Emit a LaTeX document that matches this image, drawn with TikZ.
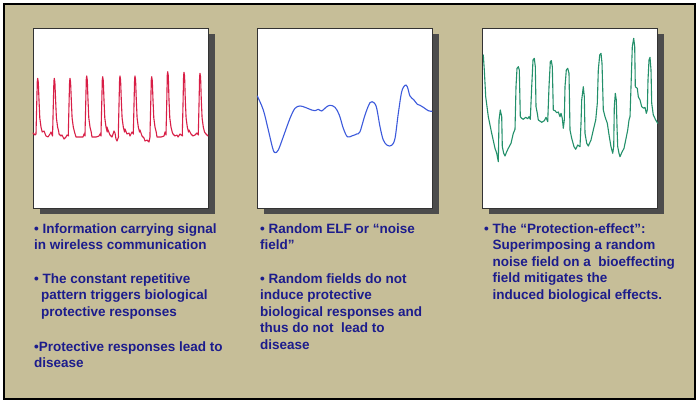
\documentclass[tikz,border=0pt]{standalone}
\usepackage{fontspec}
\setmainfont{Liberation Sans}
\definecolor{bgtan}{HTML}{C6BE98}
\definecolor{navytext}{HTML}{1C1C8C}
\definecolor{sigred}{HTML}{D81E46}
\definecolor{sigblue}{HTML}{3C5ADC}
\definecolor{siggreen}{HTML}{23906A}
\newcommand\redspike[2]{-- (#1-1.7,134) -- (#1-1,105) -- (#1-0.4,{#2+3}) -- (#1,#2) -- (#1+0.6,{#2+4}) -- (#1+1.3,100) -- (#1+2.1,118) -- (#1+3.3,127) -- (#1+4.5,132)}
\begin{document}
\begin{tikzpicture}[x=1pt,y=-1pt,
  plotbox/.style={draw=black!80, line width=0.8pt, fill=white, inner sep=0pt, minimum width=175, minimum height=180},
  shadowbox/.style={fill=black!70, draw=none, inner sep=0pt, minimum width=175, minimum height=180},
  txt/.style={anchor=base west, inner sep=0pt, align=left, text=navytext, font=\fontsize{13.5}{16.5}\selectfont\bfseries},
  wave/.style={line width=1.1pt, line join=round, line cap=round}]
\useasboundingbox (0,0) rectangle (700,405);
\fill[white] (0,0) rectangle (700,405);
\draw[fill=bgtan, line width=1.5pt] (4,4) rectangle (695,399);
% shadows and boxes
\node[shadowbox] (s1) at (127,124) {};
\node[shadowbox] (s2) at (351,124) {};
\node[shadowbox] (s3) at (576.5,124) {};
\node[plotbox] (p1) at (120.5,118) {};
\node[plotbox] (p2) at (344.5,118) {};
\node[plotbox] (p3) at (570,118) {};
% red signal
\draw[wave, sigred] (33,133) -- (35,135) \redspike{37.7}{78.3} -- (44,131) -- (46,136) -- (48,137) -- (50,134) -- (51,132) -- (52.5,136) \redspike{54.3}{78.3} -- (59,134) -- (61,136) -- (62,135) -- (64,139) -- (66,137) -- (67,135) -- (68.5,136) \redspike{70}{78.3} -- (76,137) -- (80,137) -- (83,137) -- (84,134) -- (85,136) \redspike{86.7}{76} -- (92,137) -- (96,137) -- (99,136) -- (100,134) -- (101,136) \redspike{102.7}{76.7} -- (107,127) -- (108,130) -- (110,135) -- (112,137) -- (114,131) -- (115,133) -- (116,139) -- (117,141) -- (118.5,137) \redspike{120}{76} -- (125,129) -- (127,134) -- (129,133) -- (130,136) -- (132,132) -- (133.5,134) \redspike{135}{76} -- (140,130) -- (142,136) -- (144,138) -- (145,141) -- (147,140) -- (149,142) -- (150,137) \redspike{151.7}{76.7} -- (157,137) -- (161,137) -- (164,136) -- (165,132) -- (166,135) \redspike{167.7}{71.7} -- (173,134) -- (175,136) -- (177,135) -- (178,137) -- (180,134) -- (182.5,136) \redspike{184}{72.3} -- (189,130) -- (191,134) -- (193,136) -- (195,135) -- (197,133) -- (198.5,135) \redspike{200}{73.3} -- (206,134) -- (208,136);
% blue noise
\draw[wave, sigblue] plot[smooth, tension=0.55] coordinates {(257.3,96) (263.3,110) (268.3,130) (272.7,148.3) (275,152.7) (278.3,150) (283.3,136.7) (290,118.3) (295,108.3) (300,106) (305,107.3) (311.7,110) (315,110.7) (318.3,109.3) (321.7,111) (326,107.3) (330,105.3) (335,107.3) (339.3,115) (343.3,128.3) (347.3,136.7) (351.7,136) (356.7,134) (360,131.7) (365,115) (370,102.7) (374,102.7) (376.7,108.3) (380,126.7) (383.3,140) (387.3,145.3) (391.7,145.3) (395,138.3) (398.3,113.3) (401.7,91.7) (405,85.3) (407.3,86.7) (410,96) (414,100) (417.3,104.3) (420,105.3) (423.3,107.3) (428.3,110.7) (432,111.3)};
% green combined
\draw[wave, siggreen] (483.3,55) -- (484.3,70) -- (485.7,96.7) -- (488.3,116.7) -- (491.7,133.3) -- (495,148.3) -- (496.7,153.3) -- (498.3,161.7) -- (499,120) -- (500.3,110) -- (501.7,116.7) -- (502.3,146.7) -- (503.7,153.3) -- (505,156) -- (506.7,151.7) -- (508.3,148.3) -- (511,143.3) -- (513.3,133.3) -- (515,129.3) -- (516,86.7) -- (517,68.3) -- (518.3,66.7) -- (519.3,70) -- (520.3,116.7) -- (521.7,118.3) -- (523.3,119.3) -- (525.7,117.3) -- (527.7,118.7) -- (529,116.7) -- (530.3,119.3) -- (531.7,86.7) -- (533,60) -- (534.3,58.3) -- (535.3,66.7) -- (536,106.7) -- (537.3,113.3) -- (538.3,120) -- (541.7,122.3) -- (544.3,120.7) -- (546,117.3) -- (547.7,121.7) -- (549,86.7) -- (550.3,61.7) -- (551.3,60.7) -- (552.3,66.7) -- (553.3,110) -- (555,110.7) -- (556.7,112.7) -- (558.3,112) -- (560,116.7) -- (561,113.3) -- (562.3,118.3) -- (563.3,128.3) -- (564.3,120) -- (565,86.7) -- (566.3,70) -- (567.7,68.3) -- (569,73.3) -- (570,130) -- (571.7,138.3) -- (574,146.7) -- (575.7,149.3) -- (577.7,145) -- (580,146.7) -- (581,123.3) -- (581.7,100) -- (583.3,86.7) -- (584.3,96.7) -- (585,133.3) -- (586.7,143.3) -- (588.3,146) -- (591,140) -- (593.3,130) -- (595.7,120) -- (597.3,103.3) -- (598.3,70) -- (599.7,55) -- (601,53.3) -- (602,63.3) -- (603.3,110) -- (605,116.7) -- (607.3,123.3) -- (609.3,136.7) -- (611,146.7) -- (612.7,153.3) -- (613.7,146.7) -- (614.3,106.7) -- (615.3,93.3) -- (616.3,100) -- (617,126.7) -- (617.7,146.7) -- (619,153.3) -- (620,156.7) -- (621.7,152.7) -- (624,148.3) -- (625.7,140) -- (627.7,130) -- (629,120) -- (630,116.7) -- (631,86.7) -- (632.3,46.7) -- (633.7,38.3) -- (634.7,46.7) -- (635.3,86.7) -- (637.3,88.3) -- (638.3,96.7) -- (640,100) -- (641.7,106.7) -- (643.7,108.3) -- (645,107.3) -- (646.3,113.3) -- (647.3,110) -- (648,80) -- (649,60) -- (650,57.3) -- (651,70) -- (651.7,103.3) -- (653.3,115) -- (655.7,120) -- (657.7,123.3);
% texts (anchor = baseline of last line)
\node[txt] (c1a) at (34,249.5) {• Information carrying signal\\in wireless communication};
\node[txt] (c1b) at (34,316) {• The constant repetitive\\\hspace*{7pt}pattern triggers biological\\\hspace*{7pt}protective responses};
\node[txt] (c1c) at (34,367.5) {•Protective responses lead to\\disease};
\node[txt] (c2a) at (260,249.5) {• Random ELF or “noise\\field”};
\node[txt] (c2b) at (260,349) {• Random fields do not\\induce protective\\biological responses and\\thus do not\ \ lead to\\disease};
\node[txt] (c3a) at (484,299) {• The “Protection-effect”:\\\hspace*{8.5pt}Superimposing a random\\\hspace*{8.5pt}noise field on a\ \ bioeffecting\\\hspace*{8.5pt}field mitigates the\\\hspace*{8.5pt}induced biological effects.};
\end{tikzpicture}
\end{document}
